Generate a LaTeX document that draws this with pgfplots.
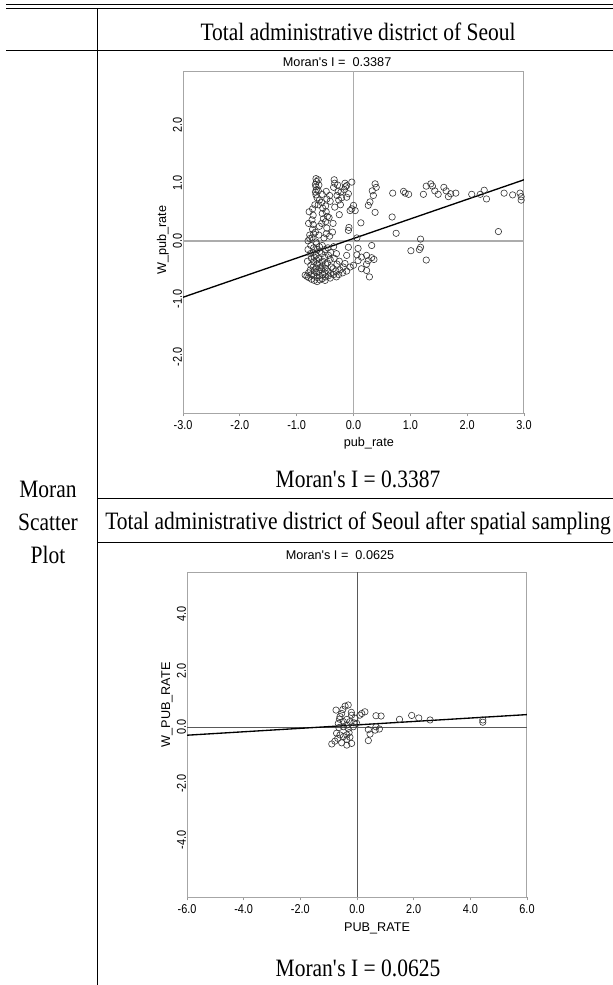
\documentclass[border=0pt]{standalone}
\usepackage{pgfplots}
\pgfplotsset{compat=1.18}
\usepackage{pgfplotstable}
\usepackage{fontspec}
\setmainfont{Liberation Serif}[FakeStretch=0.86]
\newfontfamily\geo{Liberation Sans}
\newfontfamily\geonum{Liberation Sans}[FakeStretch=0.85]

% Moran scatter, all districts (pub_rate, W_pub_rate)
\pgfplotstableread{
x y
0.38 0.98
0.40 0.92
0.33 0.86
0.35 0.78
0.29 0.67
0.26 0.61
0.38 0.49
0.69 0.82
0.88 0.85
0.91 0.82
0.97 0.80
1.23 0.80
1.28 0.94
1.36 0.98
1.39 0.94
1.43 0.86
1.49 0.80
1.59 0.92
1.63 0.86
1.67 0.76
1.71 0.81
1.80 0.82
2.08 0.80
2.23 0.80
2.30 0.87
2.34 0.72
2.65 0.82
2.80 0.79
2.93 0.82
2.95 0.76
2.95 0.70
0.68 0.41
0.75 0.13
2.55 0.16
1.18 0.03
1.01 -0.17
1.16 -0.15
1.18 -0.11
1.28 -0.33
0.13 0.31
0.32 -0.08
0.23 -0.25
0.32 -0.29
0.36 -0.32
0.26 -0.34
0.23 -0.40
0.14 -0.28
0.14 -0.48
0.23 -0.51
0.28 -0.62
0.06 0.05
-0.09 -0.11
0.08 -0.13
-0.12 -0.25
0.06 -0.24
0.08 -0.34
0.00 -0.42
-0.06 -0.45
-0.15 -0.39
-0.03 1.01
-0.12 0.95
-0.09 0.81
-0.12 0.75
0.00 0.61
-0.03 0.55
0.03 0.52
-0.06 0.52
-0.08 0.23
-0.09 0.18
-0.66 1.07
-0.65 1.02
-0.67 0.97
-0.66 0.93
-0.65 0.88
-0.67 0.84
-0.66 0.79
-0.64 0.74
-0.62 1.05
-0.61 0.96
-0.62 0.86
-0.60 0.70
-0.62 0.62
-0.55 0.80
-0.56 0.66
-0.54 0.56
-0.55 0.47
-0.53 0.38
-0.56 0.30
-0.48 0.85
-0.47 0.72
-0.49 0.60
-0.48 0.50
-0.46 0.42
-0.49 0.33
-0.47 0.22
-0.48 0.12
-0.42 0.78
-0.41 0.68
-0.43 0.40
-0.42 0.08
-0.34 1.05
-0.33 0.99
-0.35 0.92
-0.33 0.58
-0.28 0.96
-0.27 0.85
-0.29 0.78
-0.26 0.70
-0.22 0.84
-0.21 0.74
-0.23 0.62
-0.15 0.99
-0.14 0.93
-0.16 0.88
-0.72 0.55
-0.71 0.44
-0.73 0.36
-0.71 0.28
-0.72 0.20
-0.70 0.12
-0.73 0.05
-0.78 0.50
-0.79 0.30
-0.77 0.10
-0.80 0.00
-0.68 0.62
-0.67 0.15
-0.66 -0.02
-0.60 0.25
-0.61 0.10
-0.52 0.05
-0.36 0.30
-0.37 0.15
-0.25 0.45
-0.80 -0.15
-0.81 -0.35
-0.79 -0.55
-0.79 -0.63
-0.75 -0.08
-0.76 -0.22
-0.74 -0.30
-0.75 -0.42
-0.76 -0.50
-0.74 -0.58
-0.74 -0.66
-0.70 -0.12
-0.71 -0.20
-0.69 -0.28
-0.70 -0.36
-0.71 -0.45
-0.69 -0.52
-0.70 -0.60
-0.69 -0.68
-0.65 -0.05
-0.64 -0.15
-0.66 -0.25
-0.65 -0.33
-0.64 -0.40
-0.66 -0.48
-0.65 -0.55
-0.64 -0.63
-0.64 -0.70
-0.60 -0.10
-0.59 -0.18
-0.61 -0.30
-0.60 -0.38
-0.59 -0.46
-0.61 -0.53
-0.60 -0.60
-0.59 -0.67
-0.55 -0.08
-0.56 -0.22
-0.54 -0.35
-0.55 -0.43
-0.56 -0.50
-0.54 -0.58
-0.55 -0.65
-0.50 -0.15
-0.51 -0.28
-0.49 -0.40
-0.50 -0.47
-0.51 -0.55
-0.49 -0.62
-0.50 -0.68
-0.45 -0.12
-0.44 -0.25
-0.46 -0.38
-0.45 -0.52
-0.44 -0.60
-0.40 -0.20
-0.41 -0.32
-0.39 -0.45
-0.40 -0.56
-0.41 -0.64
-0.35 -0.10
-0.34 -0.30
-0.36 -0.48
-0.35 -0.58
-0.30 -0.22
-0.29 -0.40
-0.31 -0.52
-0.30 -0.62
-0.25 -0.35
-0.24 -0.50
-0.26 -0.58
-0.18 -0.45
-0.19 -0.55
-0.12 -0.52
-0.85 -0.59
-0.82 -0.61
-0.77 0.04
}\seoulall

% Moran scatter after spatial sampling (PUB_RATE, W_PUB_RATE)
\pgfplotstableread{
x y
-0.74 0.60
-0.42 0.74
-0.31 0.78
-0.50 0.62
-0.54 0.48
-0.60 0.37
-0.19 0.42
-0.20 0.52
-0.07 0.31
0.17 0.48
0.28 0.54
0.10 0.42
0.67 0.40
0.85 0.39
1.50 0.27
1.93 0.41
2.18 0.32
2.58 0.25
4.44 0.25
4.44 0.17
-0.66 0.13
-0.48 0.19
-0.62 0.28
-0.36 0.27
-0.25 0.19
-0.11 0.15
-0.01 0.13
-0.36 0.07
-0.48 0.01
-0.64 -0.02
-0.13 0.01
-0.31 -0.05
-0.89 -0.60
-0.78 -0.50
-0.54 -0.56
-0.19 -0.58
-0.72 -0.22
-0.60 -0.28
-0.48 -0.34
-0.25 -0.36
-0.36 -0.44
-0.36 -0.28
-0.68 -0.40
-0.36 -0.64
-0.28 -0.20
0.40 -0.48
0.46 -0.25
0.40 -0.09
0.67 0.01
0.79 -0.07
0.64 -0.11
}\seoulsample

\pgfplotsset{
  geoda/.style={
    scale only axis,
    axis line style={draw=gray!70, line width=0.75pt},
    xtick align=outside,
    ytick align=inside,
    xtick pos=bottom,
    ytick pos=left,
    major tick length=2.5pt,
    xtick style={draw=gray!80, line width=0.6pt},
    ytick style={draw=none},
    /pgf/number format/assume math mode=true,
    ticklabel style={font=\geonum\fontsize{9.6}{11}\selectfont, text=black},
    xticklabel style={/pgf/number format/.cd, fixed, fixed zerofill, precision=1},
    yticklabel style={rotate=90, anchor=south, inner sep=0.5pt,
      /pgf/number format/.cd, fixed, fixed zerofill, precision=1},
    label style={font=\geo\fontsize{9.5}{11}\selectfont, text=black},
    every axis title shift=0pt,
    title style={font=\geo\fontsize{9.5}{11}\selectfont, text=black, anchor=center},
  },
  pts/.style={only marks, mark=o, mark size=2.4pt,
    mark options={draw=black!80, line width=0.45pt}},
  reg/.style={black, line width=1pt},
}

\begin{document}
\begin{tikzpicture}
\path[use as bounding box] (0,0) rectangle (459.75pt,-738.75pt);

\begin{scope}[x=0.75pt, y=-0.75pt]
  \draw[line width=1.4pt] (6,4.5) -- (613,4.5);
  \draw[line width=0.75pt] (6,8) -- (613,8);
  \draw[line width=0.75pt] (6,50) -- (613,50);
  \draw[line width=0.75pt] (97,8) -- (97,985);
  \draw[line width=0.75pt] (97,498) -- (613,498);
  \draw[line width=0.75pt] (97,542) -- (613,542);
  \begin{scope}[every node/.style={anchor=base, inner sep=0pt,
      font=\fontsize{18.75}{23}\selectfont}]
    \node at (358,40) {Total administrative district of Seoul};
    \node at (358,487) {Moran\textquotesingle s I = 0.3387};
    \node at (358,529) {Total administrative district of Seoul after spatial sampling};
    \node at (358,976) {Moran\textquotesingle s I = 0.0625};
    \node at (48,497) {Moran};
    \node at (48,530) {Scatter};
    \node at (48,563) {Plot};
  \end{scope}
\end{scope}

\begin{axis}[geoda,
  at={(137.25pt,-309.75pt)}, anchor=south west,
  width=255.75pt, height=256.5pt,
  xmin=-3, xmax=3, ymin=-2.96, ymax=2.92,
  xtick={-3,-2,...,3}, ytick={-2,-1,...,2},
  xlabel={pub\_rate}, ylabel={W\_pub\_rate},
  xlabel style={at={(axis description cs:0.545,0)}, anchor=center, yshift=-22.5pt},
  ylabel style={at={(axis description cs:-0.059,0.506)}, anchor=center},
  title={Moran\textquotesingle s I = \ 0.3387},
  title style={at={(axis description cs:0.452,1.026)}},
]
\addplot[gray!65, line width=1.2pt] coordinates {(0,-2.96) (0,2.92)};
\addplot[gray!65, line width=1.2pt] coordinates {(-3,0) (3,0)};
\addplot[pts] table[x=x, y=y] {\seoulall};
\addplot[reg] coordinates {(-3,-0.97) (3,1.05)};
\end{axis}

\begin{axis}[geoda,
  at={(140.25pt,-672.75pt)}, anchor=south west,
  width=255pt, height=243.75pt,
  xmin=-6, xmax=6, ymin=-6.02, ymax=5.49,
  xtick={-6,-4,...,6}, ytick={-4,-2,...,4},
  xlabel={PUB\_RATE}, ylabel={W\_PUB\_RATE},
  xlabel style={at={(axis description cs:0.559,0)}, anchor=center, yshift=-23.25pt},
  ylabel style={at={(axis description cs:-0.059,0.591)}, anchor=center},
  title={Moran\textquotesingle s I = \ 0.0625},
  title style={at={(axis description cs:0.45,1.052)}},
]
\addplot[black!65, line width=0.7pt] coordinates {(0,-6.02) (0,5.49)};
\addplot[black!65, line width=0.7pt] coordinates {(-6,0) (6,0)};
\addplot[pts] table[x=x, y=y] {\seoulsample};
\addplot[reg] coordinates {(-6,-0.29) (6,0.44)};
\end{axis}
\end{tikzpicture}
\end{document}
